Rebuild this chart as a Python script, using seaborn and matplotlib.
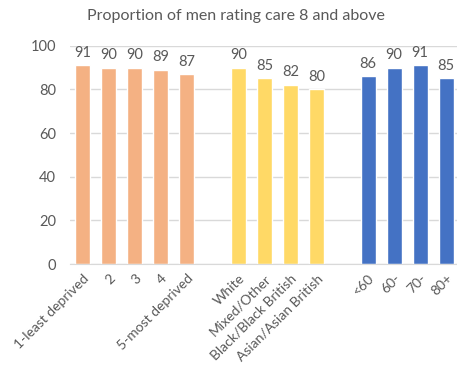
import numpy as np
import pandas as pd
import matplotlib
matplotlib.use("Agg")
import matplotlib.pyplot as plt
import seaborn as sns

categories = ["1-least deprived", "2", "3", "4", "5-most deprived", " ",
              "White", "Mixed/Other", "Black/Black British", "Asian/Asian British", "  ",
              "<60", "60-", "70-", "80+"]
values = [91, 90, 90, 89, 87, np.nan, 90, 85, 82, 80, np.nan, 86, 90, 91, 85]
groups = ["dep"] * 5 + ["gap"] + ["eth"] * 4 + ["gap"] + ["age"] * 4
group_colors = {"dep": "#F4B183", "eth": "#FFD966", "age": "#4472C4", "gap": "#FFFFFF"}
title = "Proportion of men rating care 8 and above"
yticks = [0, 20, 40, 60, 80, 100]

sns.set_style("white")
plt.rcParams["font.family"] = ["Lato", "DejaVu Sans"]

df = pd.DataFrame({"cat": categories, "val": values, "grp": groups})
palette = {c: group_colors[g] for c, g in zip(categories, groups)}

fig = plt.figure(figsize=(4.57, 3.65), dpi=100)
ax = fig.add_axes([70 / 457, 1 - 264 / 365, (459 - 70) / 457, (264 - 45.7) / 365])

sns.barplot(data=df, x="cat", y="val", hue="cat", palette=palette, legend=False,
            width=0.58, ax=ax, order=categories, saturation=1)

text_col = "#595959"
for cont in ax.containers:
    labels = ["" if np.isnan(v) else f"{v:.0f}" for v in cont.datavalues]
    ax.bar_label(cont, labels=labels, padding=4, fontsize=10.5, color=text_col)

ax.set_ylim(0, 100)
ax.set_xlim(-0.5, len(categories) - 0.5)
ax.set_yticks(yticks)
ax.set_yticklabels([str(t) for t in yticks], fontsize=10.5, color=text_col)
ax.yaxis.grid(True, color="#D9D9D9", linewidth=1)
ax.set_axisbelow(True)
ax.tick_params(axis="y", length=0, pad=10)

ax.set_xticks(range(len(categories)))
ax.set_xticklabels(categories, rotation=45, ha="right", rotation_mode="anchor",
                   fontsize=10, color=text_col)
ax.tick_params(axis="x", which="major", length=0, pad=6)
ax.set_xticks(np.arange(-0.5, len(categories), 1.0), minor=True)
ax.tick_params(axis="x", which="minor", length=4, color="#D9D9D9", width=1)

for s in ["top", "right", "left"]:
    ax.spines[s].set_visible(False)
ax.spines["bottom"].set_color("#D9D9D9")
ax.set_xlabel("")
ax.set_ylabel("")

fig.text(236 / 457, 1 - 16 / 365, title, ha="center", va="center", fontsize=11.5, color=text_col)

fig.savefig("out.png", dpi=100)
